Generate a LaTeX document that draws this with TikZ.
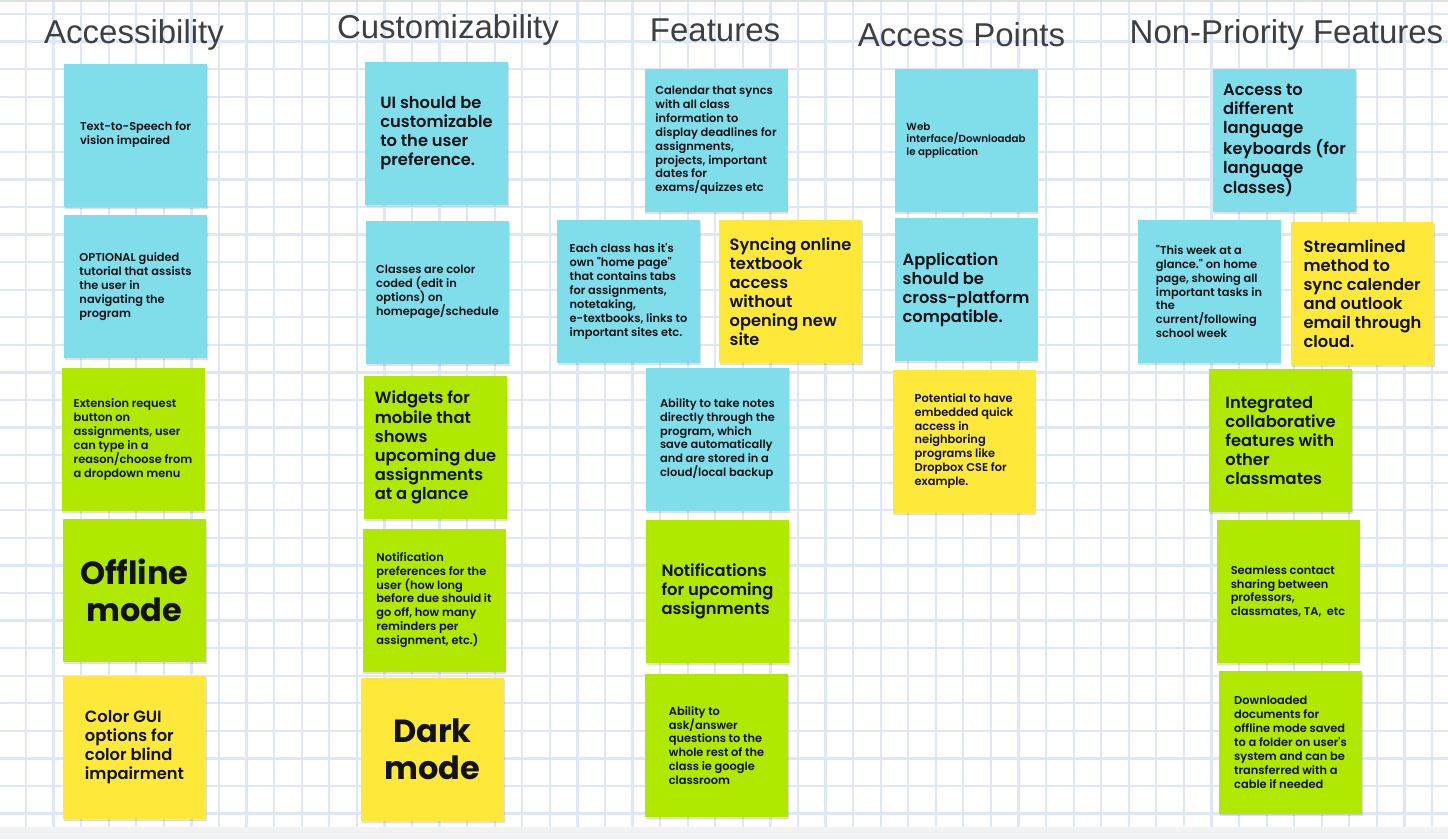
\documentclass[tikz,border=0pt]{standalone}
\usepackage{fontspec}
\usetikzlibrary{shadows}
\newfontfamily\headfont{Liberation Sans}
\newfontfamily\notefont{Poppins}[UprightFont=* SemiBold, BoldFont=* Bold]

\definecolor{gridblue}{RGB}{222,231,247}
\definecolor{stripgrey}{RGB}{241,242,244}
\definecolor{headgrey}{RGB}{60,64,67}
\definecolor{notetext}{RGB}{18,18,24}
\definecolor{notecyan}{RGB}{128,222,234}
\definecolor{notegreen}{RGB}{176,232,0}
\definecolor{noteyellow}{RGB}{254,233,59}

\tikzset{
  gridline/.style={draw=gridblue, line width=2.2pt},
  heading/.style={font=\headfont\fontsize{33}{40}\selectfont, text=headgrey, anchor=base, inner sep=0pt},
  note/.style={minimum width=143pt, minimum height=143pt, inner sep=0pt, align=left, text=notetext,
    font=\notefont\fontsize{11.4}{13.9}\selectfont,
    drop shadow={shadow xshift=0.8pt, shadow yshift=-2pt, fill=black, opacity=0.12}},
  cyannote/.style={note, fill=notecyan},
  greennote/.style={note, fill=notegreen},
  yellownote/.style={note, fill=noteyellow},
  bigtext/.style={font=\notefont\fontsize{16.3}{19.1}\selectfont},
  tinytext/.style={font=\notefont\fontsize{10.3}{12.5}\selectfont},
  hugetext/.style={font=\notefont\bfseries\fontsize{32}{37.5}\selectfont, align=center}
}

\begin{document}
\begin{tikzpicture}[x=1pt, y=-1pt]
  \useasboundingbox (0,0) rectangle (1448,839);
  \fill[white] (0,0) rectangle (1448,839);
  % background grid
  \foreach \k in {0,...,51}
    \draw[gridline] ({26+27.57*\k},0) -- ({26+27.57*\k},827);
  \foreach \k in {0,...,29}
    \draw[gridline] (0,{14+27.57*\k}) -- (1448,{14+27.57*\k});
  \fill[stripgrey] (0,827) rectangle (1448,839);
  \fill[black!12] (0,0) rectangle (1448,1.5);

  % column headings
  \node[heading] (hacc)  at (134,43)    {Accessibility};
  \node[heading] (hcust) at (448,38)    {Customizability};
  \node[heading] (hfeat) at (715,41)    {Features};
  \node[heading] (hap)   at (961.5,46)  {Access Points};
  \node[heading] (hnp)   at (1286.5,43) {Non-Priority Features};

  % Accessibility
  \node[cyannote]   (acc1) at (135.5,135)   {Text-to-Speech for\\vision impaired};
  \node[cyannote]   (acc2) at (135.5,286.5) {OPTIONAL guided\\tutorial that assists\\the user in\\navigating the\\program};
  \node[greennote]  (acc3) at (133,439.5)   {Extension request\\button on\\assignments, user\\can type in a\\reason/choose from\\a dropdown menu};
  \node[greennote, hugetext] (acc4) at (134.5,590.5) {Offline\\mode};
  \node[yellownote, bigtext] (acc5) at (134.5,747) {Color GUI\\options for\\color blind\\impairment};

  % Customizability
  \node[cyannote, bigtext]   (cust1) at (436.5,133) {UI should be\\customizable\\to the user\\preference.};
  \node[cyannote]            (cust2) at (437.5,292) {Classes are color\\coded (edit in\\options) on\\homepage/schedule};
  \node[greennote, bigtext]  (cust3) at (435.5,447.5) {Widgets for\\mobile that\\shows\\upcoming due\\assignments\\at a glance};
  \node[greennote]           (cust4) at (434,600) {Notification\\preferences for the\\user (how long\\before due should it\\go off, how many\\reminders per\\assignment, etc.)};
  \node[yellownote, hugetext] (cust5) at (432.5,749.5) {Dark\\mode};

  % Features
  \node[cyannote]   (feat1) at (716,140.5)   {Calendar that syncs\\with all class\\information to\\display deadlines for\\assignments,\\projects, important\\dates for\\exams/quizzes etc};
  \node[cyannote]   (feat2) at (628.5,291.5) {Each class has it's\\own "home page"\\that contains tabs\\for assignments,\\notetaking,\\e-textbooks, links to\\important sites etc.};
  \node[yellownote, bigtext] (feat3) at (790.5,291.5) {Syncing online\\textbook\\access\\without\\opening new\\site};
  \node[cyannote]   (feat4) at (717.5,439)   {Ability to take notes\\directly through the\\program, which\\save automatically\\and are stored in a\\cloud/local backup};
  \node[greennote, bigtext] (feat5) at (717.5,591.5) {Notifications\\for upcoming\\assignments};
  \node[greennote]  (feat6) at (716.5,745.5) {Ability to\\ask/answer\\questions to the\\whole rest of the\\class ie google\\classroom};

  % Access Points
  \node[cyannote, tinytext] (ap1) at (966,140.5) {Web\\interface/Downloadab\\le application};
  \node[cyannote, bigtext]  (ap2) at (966,289.5) {Application\\should be\\cross-platform\\compatible.};
  \node[yellownote]         (ap3) at (964,441)   {Potential to have\\embedded quick\\access in\\neighboring\\programs like\\Dropbox CSE for\\example.};

  % Non-Priority Features
  \node[cyannote, bigtext]   (np1) at (1284.5,140.5) {Access to\\different\\language\\keyboards (for\\language\\classes)};
  \node[cyannote]            (np2) at (1209,291.5)   {"This week at a\\glance." on home\\page, showing all\\important tasks in\\the\\current/following\\school week};
  \node[yellownote, bigtext] (np3) at (1362.5,293.5) {Streamlined\\method to\\sync calender\\and outlook\\email through\\cloud.};
  \node[greennote, bigtext]  (np4) at (1280.5,440.5) {Integrated\\collaborative\\features with\\other\\classmates};
  \node[greennote]           (np5) at (1288,591.5)   {Seamless contact\\sharing between\\professors,\\classmates, TA,~ etc};
  \node[greennote]           (np6) at (1290.5,742.5) {Downloaded\\documents for\\offline mode saved\\to a folder on user's\\system and can be\\transferred with a\\cable if needed};
\end{tikzpicture}
\end{document}
